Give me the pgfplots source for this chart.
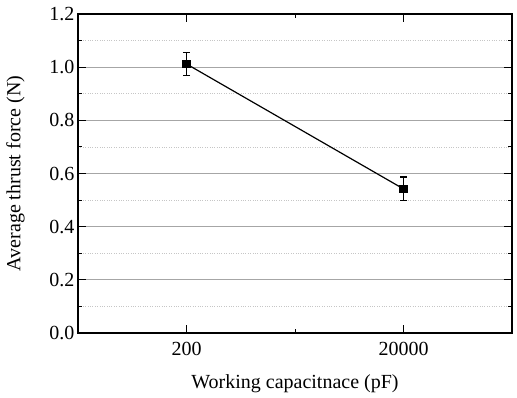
\documentclass[border=0pt]{standalone}
\usepackage{fontspec}
\setmainfont{Liberation Serif}
\usepackage{pgfplots}
\pgfplotsset{compat=1.18}
\begin{document}
\begin{tikzpicture}
\path[use as bounding box] (-78bp,-65bp) rectangle (439bp,333bp);
\begin{axis}[
  at={(0,0)}, anchor=south west,
  scale only axis, width=434bp, height=319bp,
  font=\fontsize{20bp}{24bp}\selectfont,
  /pgf/number format/assume math mode=true,
  xmin=-0.5, xmax=1.5, ymin=0, ymax=1.2,
  xtick={0,1}, xticklabels={200,20000},
  minor xtick={0.5},
  ytick={0,0.2,...,1.2},
  minor ytick={0.1,0.3,...,1.1},
  yticklabel style={/pgf/number format/.cd,fixed,fixed zerofill,precision=1},
  xticklabel style={yshift=-6bp},
  tick align=inside,
  major tick length=8bp, minor tick length=4bp,
  tick style={black, line width=1pt},
  axis line style={black, line width=1.1pt},
  ymajorgrids, yminorgrids,
  major grid style={gray!70, line width=0.7pt},
  minor grid style={gray!45, dotted, line width=0.7pt},
  xmajorgrids=false, xminorgrids=false,
  xlabel={Working capacitnace (pF)},
  ylabel={Average thrust force (N)},
  xlabel style={yshift=-12bp},
  ylabel style={yshift=18bp},
  clip=false,
]
\addplot+[black, line width=1.2pt, mark=square*, mark size=3.5bp, mark options={black, fill=black},
  error bars/.cd, y dir=both, y explicit,
  error bar style={black, line width=1.1pt},
  error mark options={rotate=90, mark size=3.5bp, line width=1.1pt}]
  coordinates {(0,1.012) +- (0,0.044) (1,0.542) +- (0,0.045)};
\end{axis}
\end{tikzpicture}
\end{document}
